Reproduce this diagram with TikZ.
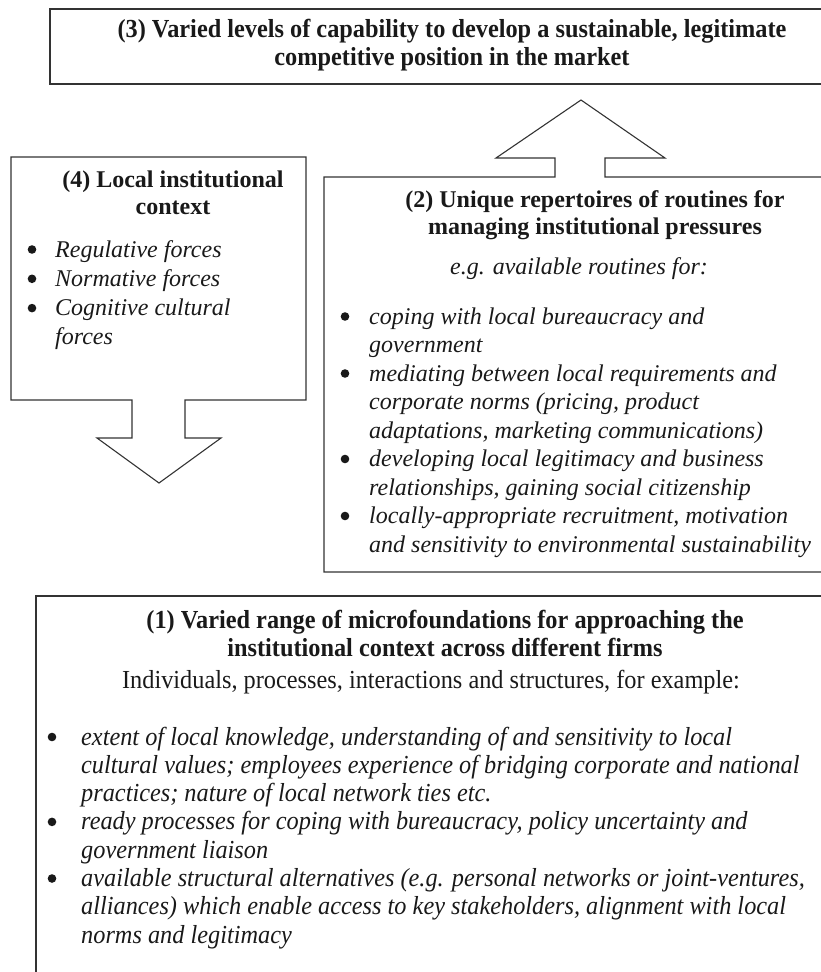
\documentclass[tikz,border=0pt]{standalone}
\usepackage{fontspec}
\setmainfont{Liberation Serif}
\newfontfamily\narrowserif[FakeStretch=0.935]{Liberation Serif}
\begin{document}
\begin{tikzpicture}[x=1pt,y=-1pt,
  outline/.style={draw=black!80, line width=1.1pt, line join=miter},
  dot/.style={fill=black!90},
  txt/.style={inner sep=0pt, text=black!90},
  headA/.style={txt, font=\fontsize{24}{27}\selectfont\bfseries},
  headB/.style={txt, font=\narrowserif\fontsize{26}{28}\selectfont\bfseries},
  itemA/.style={txt, font=\fontsize{24}{28.5}\selectfont\itshape},
  itemB/.style={txt, font=\narrowserif\fontsize{26}{28.3}\selectfont\itshape}
]
\useasboundingbox (0,0) rectangle (821,972);
\clip (0,0) rectangle (821,972);

% (3) outcome box
\draw[outline] (50,9) rectangle (880,84);
% (4) institutional context, with block arrow pointing down
\draw[outline] (11,157) -- (306,157) -- (306,400) -- (185,400) -- (185,438)
  -- (221,438) -- (159,483) -- (97,438) -- (132,438) -- (132,400) -- (11,400) -- cycle;
% (2) routines, with block arrow pointing up to (3)
\draw[outline] (880,572) -- (324,572) -- (324,177) -- (555,177) -- (555,158)
  -- (496,158) -- (581,100) -- (665,158) -- (605,158) -- (605,177) -- (880,177);
% (1) microfoundations
\draw[outline] (880,596) -- (36,596) -- (36,1000);

% texts of (3)
\node[headB, anchor=base] (capability) at (452,37)
  {\parbox[t]{760pt}{\centering (3) Varied levels of capability to develop a sustainable, legitimate\\
   competitive position in the market}};

% texts of (4)
\node[headA, anchor=base] (context) at (173,187)
  {\parbox[t]{280pt}{\centering (4) Local institutional\\ context}};
\node[itemA, anchor=base west] (forces) at (55,257)
  {\parbox[t]{250pt}{\baselineskip=29.3pt
   Regulative forces\\
   Normative forces\\
   Cognitive cultural\\
   forces}};
\foreach \y in {257,286.3,315.6} \fill[dot] (32,\y-7.5) circle (4.3);

% texts of (2)
\node[headA, anchor=base] (routines) at (595,207)
  {\parbox[t]{480pt}{\centering (2) Unique repertoires of routines for\\
   managing institutional pressures}};
\node[itemA, anchor=base] (eg) at (579,274) {e.g. available routines for:};
\node[itemA, anchor=base west] (routinelist) at (369,324)
  {\parbox[t]{460pt}{%
   coping with local bureaucracy and\\
   government\\
   mediating between local requirements and\\
   corporate norms (pricing, product\\
   adaptations, marketing communications)\\
   developing local legitimacy and business\\
   relationships, gaining social citizenship\\
   locally-appropriate recruitment, motivation\\
   and sensitivity to environmental sustainability}};
\foreach \y in {324,381,466.5,523.5} \fill[dot] (345,\y-7.5) circle (4.3);

% texts of (1)
\node[headB, anchor=base] (micro) at (445,628)
  {\parbox[t]{780pt}{\centering (1) Varied range of microfoundations for approaching the\\
   institutional context across different firms}};
\node[txt, anchor=base, font=\narrowserif\fontsize{26}{28}\selectfont] (examples) at (431,688)
  {Individuals, processes, interactions and structures, for example:};
\node[itemB, anchor=base west] (microlist) at (81,745)
  {\parbox[t]{740pt}{%
   extent of local knowledge, understanding of and sensitivity to local\\
   cultural values; employees experience of bridging corporate and national\\
   practices; nature of local network ties etc.\\
   ready processes for coping with bureaucracy, policy uncertainty and\\
   government liaison\\
   available structural alternatives (e.g. personal networks or joint-ventures,\\
   alliances) which enable access to key stakeholders, alignment with local\\
   norms and legitimacy}};
\foreach \y in {745,829.9,886.5} \fill[dot] (52,\y-8) circle (4.3);
\end{tikzpicture}
\end{document}
